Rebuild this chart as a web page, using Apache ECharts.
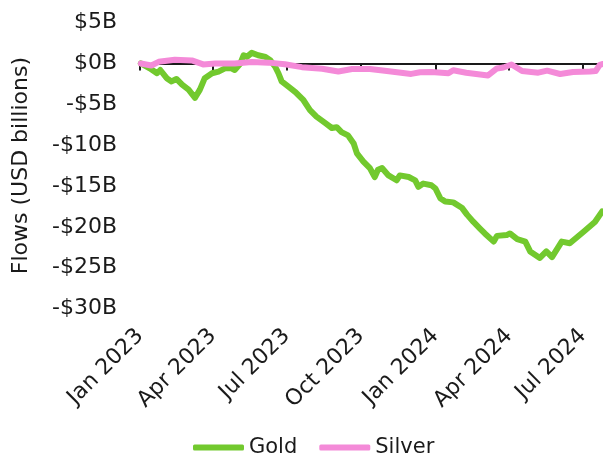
<!DOCTYPE html>
<html>
<head>
<meta charset="utf-8">
<script src="https://cdn.jsdelivr.net/npm/echarts@6/dist/echarts.min.js"></script>
<style>
  html, body { margin: 0; padding: 0; background: #fff; }
  #main { width: 603px; height: 457px; }
</style>
</head>
<body>
<div id="main"></div>
<script>
// cumulative flows, USD billions
var goldDates = ['2023-01-02','2023-01-13','2023-01-22','2023-01-26','2023-02-03','2023-02-09','2023-02-15','2023-02-22',
  '2023-03-02','2023-03-10','2023-03-16','2023-03-22','2023-03-31','2023-04-08','2023-04-16','2023-04-24','2023-04-28',
  '2023-05-05','2023-05-09','2023-05-13','2023-05-19','2023-05-27','2023-06-05','2023-06-11','2023-06-17','2023-06-21',
  '2023-06-25','2023-07-03','2023-07-12','2023-07-22','2023-07-30','2023-08-07','2023-08-18','2023-08-26','2023-09-01',
  '2023-09-07','2023-09-15','2023-09-22','2023-09-26','2023-10-04','2023-10-12','2023-10-18','2023-10-22','2023-10-27',
  '2023-11-04','2023-11-14','2023-11-18','2023-11-29','2023-12-07','2023-12-11','2023-12-17','2023-12-27','2024-01-01',
  '2024-01-07','2024-01-13','2024-01-23','2024-02-03','2024-02-09','2024-02-17','2024-02-25','2024-03-02','2024-03-13',
  '2024-03-17','2024-03-29','2024-04-02','2024-04-11','2024-04-21','2024-04-27','2024-05-09','2024-05-17','2024-05-24',
  '2024-06-05','2024-06-15','2024-07-02','2024-07-16','2024-07-25'];
var goldValues = [0.0,-0.6,-1.2,-0.8,-1.8,-2.2,-1.9,-2.6,
  -3.2,-4.2,-3.2,-1.8,-1.2,-1.0,-0.6,-0.6,-0.8,
  0.0,1.0,0.8,1.3,1.0,0.8,0.4,-0.4,-1.2,
  -2.2,-2.8,-3.5,-4.5,-5.7,-6.5,-7.3,-7.9,-7.8,
  -8.4,-8.8,-9.8,-11.0,-12.0,-12.8,-13.9,-13.0,-12.8,
  -13.7,-14.3,-13.7,-13.9,-14.3,-15.1,-14.7,-14.9,-15.3,
  -16.5,-16.9,-17.0,-17.7,-18.5,-19.4,-20.2,-20.8,-21.8,
  -21.1,-21.0,-20.8,-21.5,-21.8,-23.0,-23.8,-23.0,-23.7,
  -21.8,-22.0,-20.6,-19.4,-18.1];

var silverDates = ['2023-01-02','2023-01-15','2023-01-24','2023-02-13','2023-03-06','2023-03-20','2023-04-04','2023-04-28',
  '2023-05-19','2023-06-09','2023-06-29','2023-07-20','2023-08-14','2023-09-03','2023-09-20','2023-10-12','2023-11-02',
  '2023-12-02','2023-12-13','2023-12-27','2024-01-17','2024-01-23','2024-02-08','2024-03-06','2024-03-17','2024-03-25',
  '2024-04-04','2024-04-17','2024-05-07','2024-05-18','2024-06-03','2024-06-19','2024-07-10','2024-07-17','2024-07-22',
  '2024-07-26'];
var silverValues = [0.0,-0.25,0.2,0.45,0.37,-0.12,0.0,0.0,
  0.18,0.1,-0.1,-0.45,-0.64,-0.98,-0.67,-0.67,-0.92,
  -1.28,-1.08,-1.04,-1.2,-0.83,-1.13,-1.47,-0.61,-0.49,
  -0.12,-0.92,-1.13,-0.88,-1.29,-1.04,-0.98,-0.92,-0.18,
  -0.06];

var tickDates = ['2023-01-01','2023-04-01','2023-07-01','2023-10-01','2024-01-01','2024-04-01','2024-07-01'];
var tickLabels = ['Jan 2023','Apr 2023','Jul 2023','Oct 2023','Jan 2024','Apr 2024','Jul 2024'];

var xMin = '2023-01-01';
var xMax = '2024-07-26';

function ts(d) { return Date.parse(d + 'T00:00:00Z'); }
function pairs(dates, values) {
  return dates.map(function (d, i) { return [ts(d), values[i]]; });
}
var tickTimes = tickDates.map(ts);

var font = 'DejaVu Sans';
var ink = '#1a1a1a';
var chart = echarts.init(document.getElementById('main'));

var option = {
  animation: false,
  textStyle: { fontFamily: font },
  grid: { left: 140, right: 0, top: 22.6, bottom: 148.4, containLabel: false },
  legend: {
    data: ['Gold', 'Silver'],
    top: 432,
    left: 188,
    icon: 'roundRect',
    itemWidth: 51,
    itemHeight: 6,
    itemGap: 22,
    textStyle: { fontFamily: font, fontSize: 21, color: ink }
  },
  xAxis: [
    {
      // zero line with quarterly ticks
      type: 'value',
      min: ts(xMin),
      max: ts(xMax),
      axisLine: { onZero: true, lineStyle: { color: ink, width: 2 } },
      axisTick: { show: true, length: 7, customValues: tickTimes, lineStyle: { color: ink, width: 2 } },
      axisLabel: { show: false },
      splitLine: { show: false }
    },
    {
      // labels at the bottom
      type: 'value',
      position: 'bottom',
      min: ts(xMin),
      max: ts(xMax),
      axisLine: { show: false, onZero: false },
      axisTick: { show: false },
      splitLine: { show: false },
      axisLabel: {
        rotate: 45,
        margin: 24,
        fontSize: 22,
        fontFamily: font,
        color: ink,
        customValues: tickTimes,
        formatter: function (v) {
          var i = tickTimes.indexOf(+v);
          return i >= 0 ? tickLabels[i] : '';
        }
      }
    }
  ],
  yAxis: {
    type: 'value',
    min: -30,
    max: 5,
    interval: 5,
    name: 'Flows (USD billions)',
    nameLocation: 'middle',
    nameRotate: 90,
    nameGap: 108,
    nameTextStyle: { fontSize: 22, fontFamily: font, color: ink },
    axisLine: { show: false },
    axisTick: { show: false },
    splitLine: { show: false },
    axisLabel: {
      fontSize: 22,
      fontFamily: font,
      color: ink,
      margin: 23,
      formatter: function (v) { return (v < 0 ? '-' : '') + '$' + Math.abs(v) + 'B'; }
    }
  },
  series: [
    {
      name: 'Gold',
      type: 'line',
      xAxisIndex: 0,
      data: pairs(goldDates, goldValues),
      showSymbol: false,
      symbol: 'none',
      color: '#72c92e',
      lineStyle: { width: 6, cap: 'round', join: 'round' }
    },
    {
      name: 'Silver',
      type: 'line',
      xAxisIndex: 0,
      data: pairs(silverDates, silverValues),
      showSymbol: false,
      symbol: 'none',
      color: '#f48ad8',
      lineStyle: { width: 6, cap: 'round', join: 'round' }
    }
  ]
};
chart.setOption(option);
</script>
</body>
</html>
